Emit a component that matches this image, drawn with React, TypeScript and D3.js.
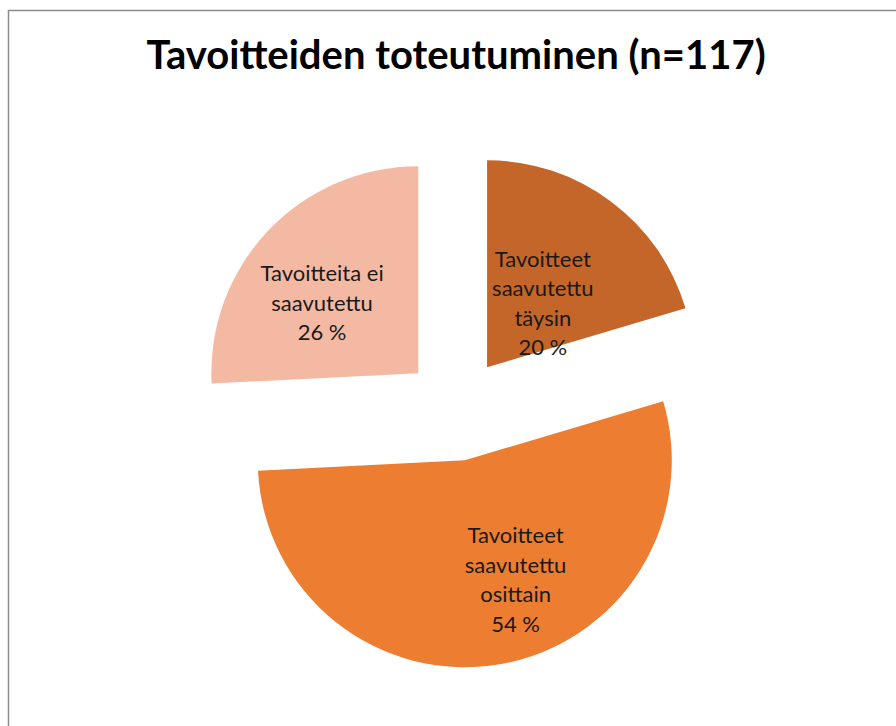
import React from 'react'
import * as d3 from 'd3'

// slices in drawing order, clockwise from 12 o'clock
const labels = [
  ['Tavoitteet', 'saavutettu', 'täysin'],
  ['Tavoitteet', 'saavutettu', 'osittain'],
  ['Tavoitteita ei', 'saavutettu'],
]
const shares = [20.4, 53.8, 25.8]
const colors = ['#C4652A', '#ED7D31', '#F4B9A3']

const title = 'Tavoitteiden toteutuminen (n=117)'

// where each label sits: distance from slice tip and angle (deg)
const labelPolar = [
  { r: 85, a: 41 },
  { r: 130, a: 157 },
  { r: 119, a: 306 },
]

const W = 896
const H = 726
const cx = 456
const cy = 409
const radius = 207
const explode = 52
const font = 'Lato, Carlito, "Open Sans", sans-serif'

export default function App() {
  const pie = d3.pie<number>().sort(null).value(d => d)
  const arcs = pie(shares)
  const arc = d3.arc<d3.PieArcDatum<number>>().innerRadius(0).outerRadius(radius)

  return (
    <svg width={W} height={H} style={{ position: 'absolute', left: 0, top: 0 }}>
      <rect x={0} y={0} width={W} height={H} fill="#fff" />
      <rect x={8.5} y={10.5} width={W} height={H} fill="none" stroke="#8c8c8c" strokeWidth={1.5} />
      <text x={cx} y={69} textAnchor="middle" fontFamily={font} fontWeight="bold" fontSize={40} fill="#000">
        {title}
      </text>
      {arcs.map((a, i) => {
        const mid = (a.startAngle + a.endAngle) / 2
        const ox = cx + Math.sin(mid) * explode
        const oy = cy - Math.cos(mid) * explode
        const la = (labelPolar[i].a * Math.PI) / 180
        const lx = Math.sin(la) * labelPolar[i].r
        const ly = -Math.cos(la) * labelPolar[i].r
        const lines = [...labels[i], Math.round(shares[i]) + ' %']
        const lh = 29.5
        const top = ly - ((lines.length - 1) * lh) / 2
        return (
          <g key={i} transform={`translate(${ox},${oy})`}>
            <path d={arc(a) || ''} fill={colors[i]} />
            <text textAnchor="middle" fontFamily={font} fontSize={22} fill="#1a1a1a">
              {lines.map((t, j) => (
                <tspan key={j} x={lx} y={top + j * lh} dy="0.35em">
                  {t}
                </tspan>
              ))}
            </text>
          </g>
        )
      })}
    </svg>
  )
}
